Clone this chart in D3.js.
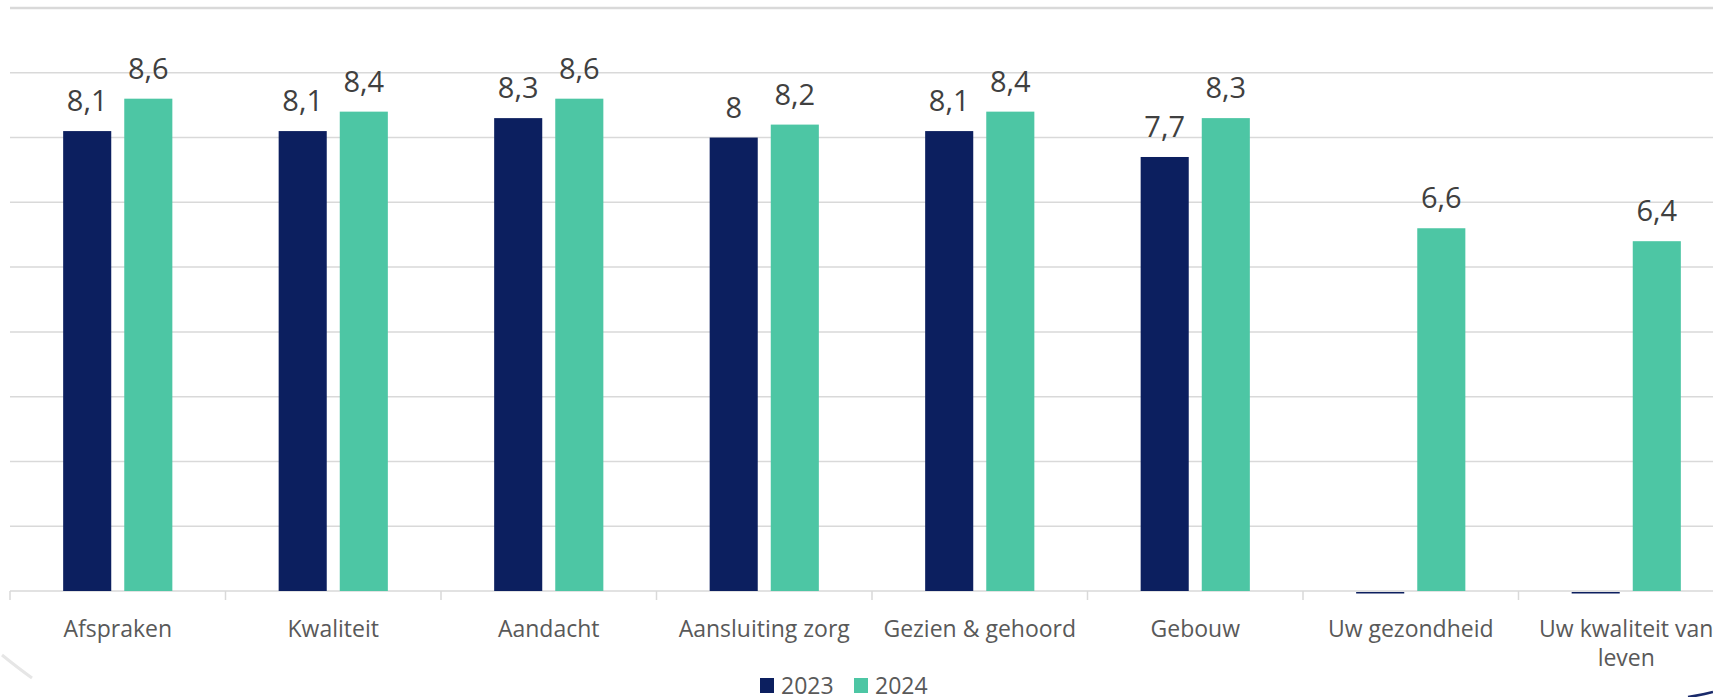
<!DOCTYPE html>
<html>
<head>
<meta charset="utf-8">
<script src="https://cdn.jsdelivr.net/npm/d3@7"></script>
<style>
  html, body { margin: 0; padding: 0; background: #fff; overflow: hidden; }
  svg { display: block; font-family: "Open Sans", sans-serif; }
</style>
</head>
<body>
<div id="chart"></div>
<script>
var categories = ["Afspraken", "Kwaliteit", "Aandacht", "Aansluiting zorg", "Gezien & gehoord", "Gebouw", "Uw gezondheid", "Uw kwaliteit van leven"];
var series = ["2023", "2024"];
var values2023 = [8.1, 8.1, 8.3, 8.0, 8.1, 7.7, 0, 0];
var values2024 = [8.6, 8.4, 8.6, 8.2, 8.4, 8.3, 6.6, 6.4];
var gridTicks = [1, 2, 3, 4, 5, 6, 7, 8, 9, 10];

var colors = { "2023": "#0c1f5f", "2024": "#4dc6a4" };
var format = function(v) { return String(v).replace(".", ","); };

var width = 1713, height = 697;

var svg = d3.select("#chart")
    .append("svg")
    .attr("width", width)
    .attr("height", height);

// band range runs past the right edge, like the cropped original
var x0 = d3.scaleBand()
    .domain(categories)
    .range([10, 1734]);

var x1 = d3.scaleBand()
    .domain(series)
    .range([0, x0.bandwidth()])
    .paddingInner(0.213)
    .paddingOuter(0.87);

var y = d3.scaleLinear()
    .domain([1, 10])
    .range([591, 8]);

// gridlines
svg.append("g")
    .selectAll("line")
    .data(gridTicks)
    .enter().append("line")
    .attr("x1", 10)
    .attr("x2", width)
    .attr("y1", function(d) { return y(d) })
    .attr("y2", function(d) { return y(d) })
    .style("stroke", "#d9d9d9")
    .style("stroke-width", function(d) { return d === 10 ? 2.5 : 1.5 });

// category ticks
svg.append("g")
    .selectAll("line")
    .data(categories.concat(["end"]))
    .enter().append("line")
    .attr("x1", function(d, i) { return x0.range()[0] + i * x0.step() })
    .attr("x2", function(d, i) { return x0.range()[0] + i * x0.step() })
    .attr("y1", y(1))
    .attr("y2", y(1) + 9)
    .style("stroke", "#d9d9d9")
    .style("stroke-width", 1.5);

var rows = categories.map(function(c, i) {
    return { cat: c, vals: [{ s: "2023", v: values2023[i] }, { s: "2024", v: values2024[i] }] };
});

var groups = svg.append("g")
    .selectAll("g")
    .data(rows)
    .enter().append("g")
    .attr("transform", function(d) { return "translate(" + x0(d.cat) + ",0)" });

groups.selectAll("rect")
    .data(function(d) { return d.vals })
    .enter().append("rect")
    .attr("x", function(d) { return x1(d.s) })
    .attr("width", x1.bandwidth())
    .attr("y", function(d) { return d.v > 1 ? y(d.v) : y(1) + 1 })
    .attr("height", function(d) { return d.v > 1 ? y(1) - y(d.v) : 1.5 })
    .style("fill", function(d) { return colors[d.s] });

groups.selectAll("text.val")
    .data(function(d) { return d.vals.filter(function(e) { return e.v > 1 }) })
    .enter().append("text")
    .attr("class", "val")
    .attr("x", function(d) { return x1(d.s) + x1.bandwidth() / 2 })
    .attr("y", function(d) { return y(d.v) - 20 })
    .attr("text-anchor", "middle")
    .style("font-size", "29px")
    .style("fill", "#404040")
    .text(function(d) { return format(d.v) });

// category labels, wrapped like the original
var labelLines = {
    "Uw kwaliteit van leven": ["Uw kwaliteit van", "leven"]
};

groups.append("text")
    .attr("x", x0.bandwidth() / 2)
    .attr("y", 637)
    .attr("text-anchor", "middle")
    .style("font-size", "23px")
    .style("fill", "#595959")
    .selectAll("tspan")
    .data(function(d) { return labelLines[d.cat] || [d.cat] })
    .enter().append("tspan")
    .attr("x", x0.bandwidth() / 2)
    .attr("dy", function(d, i) { return i === 0 ? 0 : 29 })
    .text(function(d) { return d });

// legend
var legend = svg.append("g")
    .attr("transform", "translate(760,678)");

var item = legend.selectAll("g")
    .data(series)
    .enter().append("g")
    .attr("transform", function(d, i) { return "translate(" + (i * 94) + ",0)" });

item.append("rect")
    .attr("width", 14)
    .attr("height", 15)
    .style("fill", function(d) { return colors[d] });

item.append("text")
    .attr("x", 21)
    .attr("y", 15.5)
    .style("font-size", "23px")
    .style("fill", "#595959")
    .text(function(d) { return d });

// slide decoration at the corners
svg.append("path")
    .attr("d", "M2,655 Q18,668 32,678")
    .style("fill", "none")
    .style("stroke", "#e6e6e6")
    .style("stroke-width", 3);

svg.append("path")
    .attr("d", "M1688,697 Q1702,695 1713,692")
    .style("fill", "none")
    .style("stroke", "#1a2a6a")
    .style("stroke-width", 2.5);
</script>
</body>
</html>
